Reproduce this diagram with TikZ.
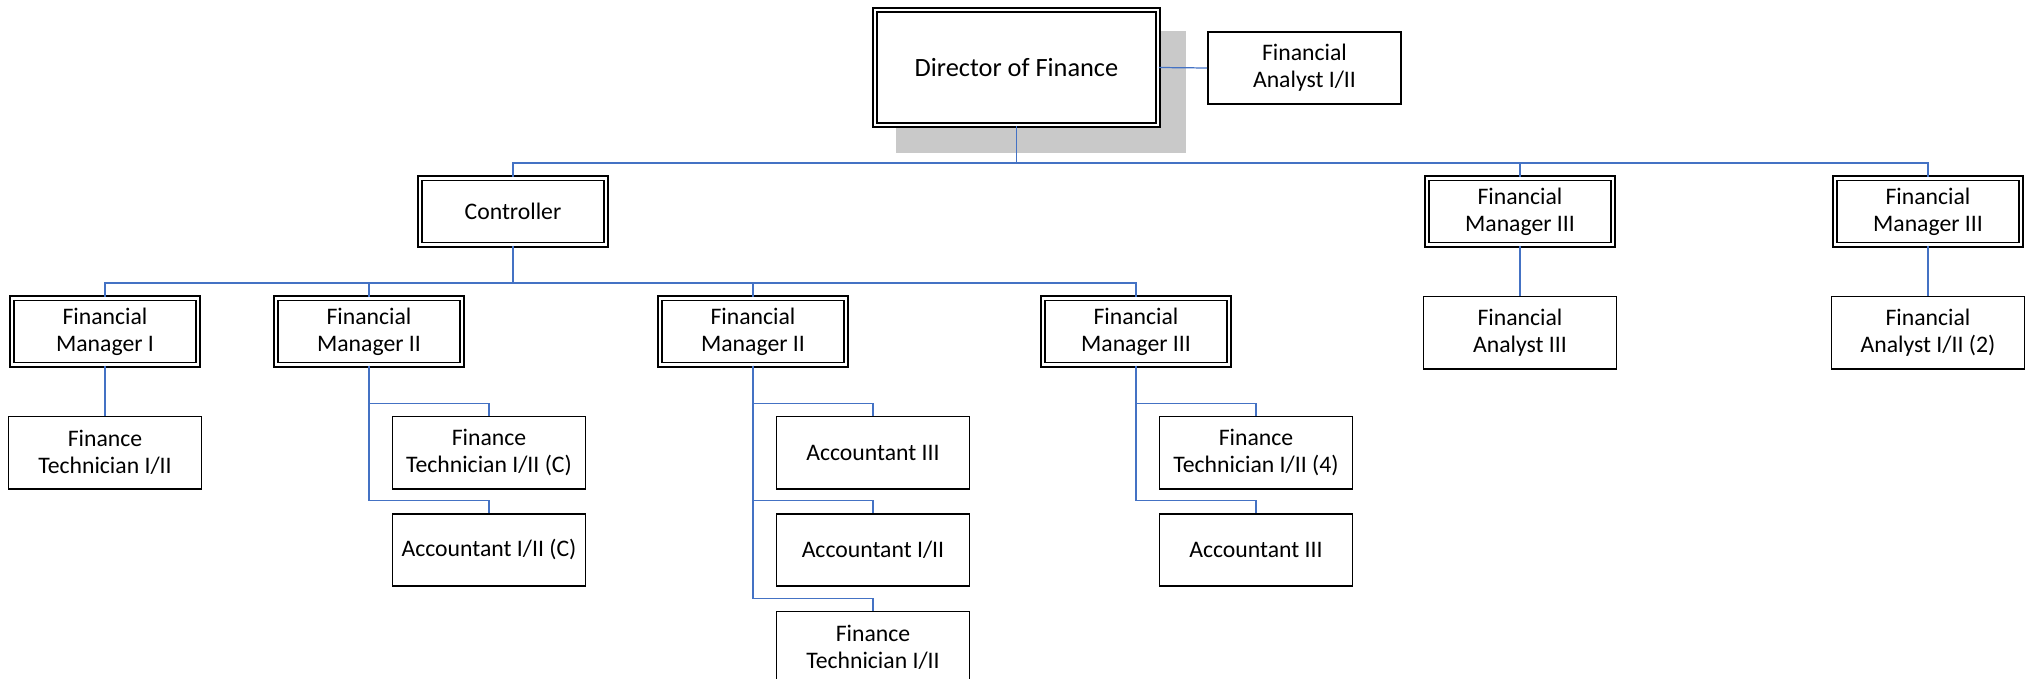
\documentclass[tikz,border=0pt]{standalone}
\usepackage{fontspec}
\setmainfont{Carlito}
\usetikzlibrary{positioning}
\definecolor{linkblue}{RGB}{68,114,196}

\begin{document}
\begin{tikzpicture}[x=0.02cm, y=-0.02cm,
  post/.style={draw, fill=white, rectangle, line width=1pt, minimum width=3.86cm, minimum height=1.45cm,
    align=center, inner sep=0pt, font=\fontsize{13.5}{15.4}\selectfont},
  head/.style={post, line width=0.9pt, double, double distance=1.6pt,
    minimum width=3.72cm, minimum height=1.33cm},
  link/.style={draw=linkblue, line width=0.7pt},
  drop/.style={link, line width=1.1pt}]
\useasboundingbox (0,0) rectangle (2028,679);

% top of the chart
\fill[black!21] (896,31) rectangle (1186,153);
\node[head, minimum width=5.66cm, minimum height=2.3cm, font=\fontsize{15}{18}\selectfont] (Director) at (1016.5,67.5) {Director of Finance};
\node[post] (AnalystTop) at (1304.5,68) {Financial\\Analyst I/II};
\coordinate (TopBus) at (1016.5,163);

\node[head] (Controller) at (513,211.5) {Controller};
\node[head] (ManagerIIIa) at (1520,211.5) {Financial\\Manager III};
\node[head] (ManagerIIIb) at (1928,211.5) {Financial\\Manager III};
\node[post, below=1cm of ManagerIIIa] (AnalystIII) {Financial\\Analyst III};
\node[post, below=1cm of ManagerIIIb] (AnalystTwo) {Financial\\Analyst I/II (2)};
\coordinate (CtrlBus) at (513,283);

% managers under the controller
\node[head] (ManagerI) at (105,331.5) {Financial\\Manager I};
\node[head] (ManagerIIa) at (369,331.5) {Financial\\Manager II};
\node[head] (ManagerIIb) at (753,331.5) {Financial\\Manager II};
\node[head] (ManagerIIIc) at (1136,331.5) {Financial\\Manager III};

\node[post, below=1cm of ManagerI] (TechI) {Finance\\Technician I/II};
\node[post, below=1cm of ManagerIIa, xshift=2.4cm] (TechC) {Finance\\Technician I/II (C)};
\node[post, below=0.46cm of TechC] (AccountC) {Accountant I/II (C)};
\node[post, below=1cm of ManagerIIb, xshift=2.4cm] (AccountIII) {Accountant III};
\node[post, below=0.46cm of AccountIII] (AccountI) {Accountant I/II};
\node[post, below=0.47cm of AccountI] (TechII) {Finance\\Technician I/II};
\node[post, below=1cm of ManagerIIIc, xshift=2.4cm] (TechFour) {Finance\\Technician I/II (4)};
\node[post, below=0.46cm of TechFour] (AccountIIIb) {Accountant III};

% connectors
\draw[link] (Director.east) -- (AnalystTop.west);
\draw[drop] (Director.south) -- (TopBus);
\foreach \n in {Controller, ManagerIIIa, ManagerIIIb}
  \draw[link] (TopBus) -| (\n.north);
\draw[drop] (Controller.south) -- (CtrlBus);
\foreach \n in {ManagerI, ManagerIIa, ManagerIIb, ManagerIIIc}
  \draw[link] (CtrlBus) -| (\n.north);
\draw[link] (ManagerI) -- (TechI);
\draw[link] (ManagerIIIa) -- (AnalystIII);
\draw[link] (ManagerIIIb) -- (AnalystTwo);
\foreach \p/\c in {ManagerIIa/TechC, ManagerIIa/AccountC, ManagerIIb/AccountIII, ManagerIIb/AccountI,
    ManagerIIb/TechII, ManagerIIIc/TechFour, ManagerIIIc/AccountIIIb}
  \draw[link] (\p.south) |- ([yshift=0.24cm]\c.north) -- (\c.north);
\end{tikzpicture}
\end{document}
